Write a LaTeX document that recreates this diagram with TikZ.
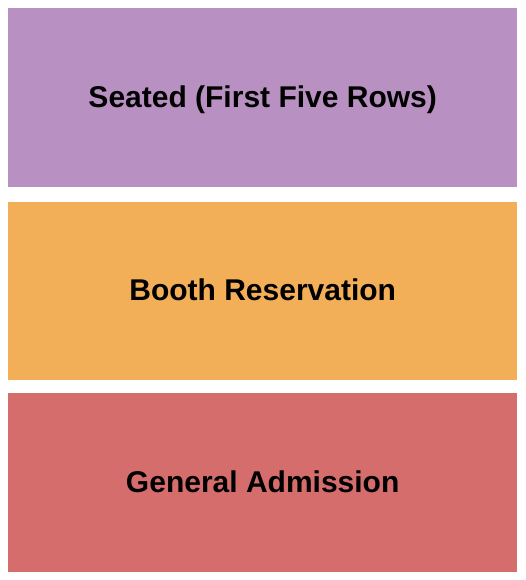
\documentclass[tikz,border=0pt]{standalone}
\usepackage{fontspec}
\setmainfont{Liberation Sans}
\definecolor{seatpurple}{RGB}{185,144,194}
\definecolor{boothorange}{RGB}{243,174,88}
\definecolor{gared}{RGB}{214,109,109}
\tikzset{
  section/.style={draw=none, minimum width=509pt, minimum height=178.5pt, inner sep=0pt, anchor=north west},
  label/.style={font=\fontsize{30}{32}\selectfont\bfseries, text=black, anchor=base, inner sep=0pt}
}
\begin{document}
\begin{tikzpicture}[x=1pt,y=-1pt]
\useasboundingbox (0,0) rectangle (525,580);
\node[section, fill=seatpurple] (seated) at (8,8) {};
\node[section, fill=boothorange] (booth) at (8,201.5) {};
\node[section, fill=gared] (ga) at (8,393) {};
\node[label] (seatedlabel) at ([yshift=-10pt]seated.center) {Seated (First Five Rows)};
\node[label] (boothlabel) at ([yshift=-10pt]booth.center) {Booth Reservation};
\node[label] (galabel) at ([yshift=-10.5pt]ga.center) {General Admission};
\end{tikzpicture}
\end{document}
